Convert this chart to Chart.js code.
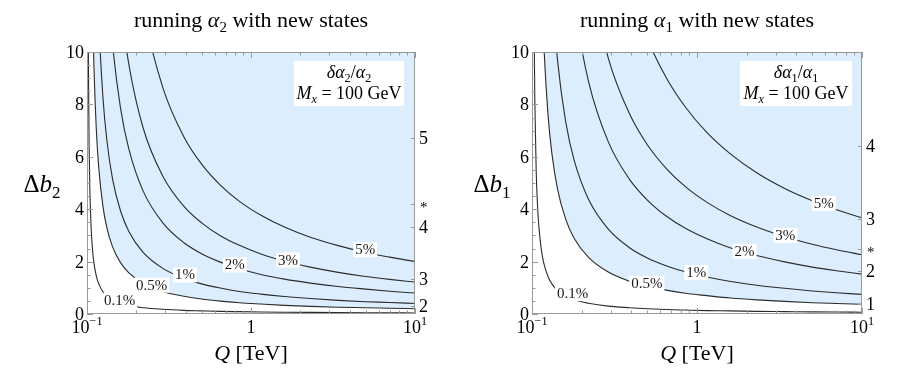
<!DOCTYPE html>
<html>
<head>
<meta charset="utf-8">
<script src="https://cdn.jsdelivr.net/npm/chart.js@4.4.0/dist/chart.umd.min.js"></script>
<style>
  html, body { margin: 0; padding: 0; background: #fff; }
  #wrap { width: 900px; height: 368px; display: flex; }
  #wrap canvas { display: block; }
</style>
</head>
<body>
<div id="wrap">
  <canvas id="chart-a2" width="450" height="368"></canvas>
  <canvas id="chart-a1" width="450" height="368"></canvas>
</div>
<script>
// Q [TeV] sample points shared by all contours
const qValues = [0.101, 0.1015, 0.102, 0.103, 0.104, 0.106, 0.108, 0.11, 0.114, 0.118,
  0.125, 0.132, 0.143, 0.16, 0.18, 0.22, 0.29, 0.39, 0.5, 0.65,
  0.85, 1.15, 1.6, 2.3, 3.4, 5, 7, 10];

const levels = ['0.1%', '0.5%', '1%', '2%', '3%', '5%'];

// Δb2 along each contour of δα2/α2 (left panel)
const b2_01 = [19.1, 12.76, 9.60, 6.43, 4.84, 3.26, 2.47, 1.99, 1.45, 1.15, 0.85, 0.68, 0.53, 0.40,
  0.32, 0.24, 0.18, 0.14, 0.12, 0.10, 0.089, 0.078, 0.069, 0.061, 0.054, 0.049, 0.045, 0.041];
const b2_05 = [null, null, null, null, null, 15.79, 11.95, 9.65, 7.02, 5.56, 4.12, 3.31, 2.57, 1.96,
  1.57, 1.17, 0.86, 0.68, 0.57, 0.49, 0.43, 0.38, 0.33, 0.29, 0.26, 0.24, 0.22, 0.20];
const b2_1 = [null, null, null, null, null, null, null, null, 14.12, 11.18, 8.29, 6.66, 5.17, 3.94,
  3.15, 2.35, 1.74, 1.36, 1.15, 0.99, 0.86, 0.76, 0.67, 0.59, 0.52, 0.47, 0.44, 0.40];
const b2_2 = [null, null, null, null, null, null, null, null, null, null, 16.58, 13.33, 10.34, 7.87,
  6.29, 4.69, 3.48, 2.72, 2.30, 1.98, 1.73, 1.51, 1.33, 1.18, 1.05, 0.95, 0.87, 0.80];
const b2_3 = [null, null, null, null, null, null, null, null, null, null, null, null, 15.66, 11.91,
  9.53, 7.10, 5.26, 4.11, 3.48, 2.99, 2.62, 2.29, 2.02, 1.79, 1.59, 1.43, 1.32, 1.22];
const b2_5 = [null, null, null, null, null, null, null, null, null, null, null, null, null, null,
  15.65, 11.67, 8.64, 6.76, 5.72, 4.92, 4.30, 3.77, 3.32, 2.93, 2.61, 2.35, 2.17, 2.00];

// Δb1 along each contour of δα1/α1 (right panel)
const b1_01 = [null, 21.49, 16.16, 10.83, 8.16, 5.49, 4.16, 3.36, 2.44, 1.93, 1.43, 1.15, 0.89, 0.68,
  0.54, 0.41, 0.30, 0.24, 0.20, 0.17, 0.15, 0.13, 0.12, 0.10, 0.091, 0.082, 0.075, 0.069];
const b1_05 = [null, null, null, null, null, null, null, 17.84, 12.97, 10.27, 7.62, 6.12, 4.75, 3.62,
  2.89, 2.16, 1.60, 1.25, 1.06, 0.91, 0.79, 0.70, 0.61, 0.54, 0.48, 0.43, 0.40, 0.37];
const b1_1 = [null, null, null, null, null, null, null, null, null, null, 15.46, 12.43, 9.65, 7.34,
  5.87, 4.38, 3.24, 2.53, 2.14, 1.84, 1.61, 1.41, 1.24, 1.10, 0.98, 0.88, 0.81, 0.75];
const b1_2 = [null, null, null, null, null, null, null, null, null, null, null, null, 19.57, 14.89,
  11.91, 8.88, 6.57, 5.14, 4.35, 3.74, 3.27, 2.87, 2.52, 2.23, 1.99, 1.79, 1.65, 1.52];
const b1_3 = [null, null, null, null, null, null, null, null, null, null, null, null, null, null,
  17.69, 13.19, 9.77, 7.64, 6.46, 5.56, 4.86, 4.26, 3.75, 3.32, 2.95, 2.66, 2.45, 2.26];
const b1_5 = [null, null, null, null, null, null, null, null, null, null, null, null, null, null,
  null, null, 15.87, 12.42, 10.50, 9.03, 7.90, 6.92, 6.10, 5.39, 4.79, 4.32, 3.98, 3.67];

// where the contour labels sit (Q, Δb)
const labelQ2 = [0.158, 0.248, 0.396, 0.797, 1.68, 4.97];
const labelB2 = [0.54, 1.12, 1.51, 1.89, 2.08, 2.47];
const labelQ1 = [0.176, 0.496, 0.989, 1.94, 3.43, 5.86];
const labelB1 = [0.80, 1.19, 1.60, 2.41, 3.02, 4.24];

// axis ticks
const yTicks = [0, 2, 4, 6, 8, 10];
const yMinor = [0.5, 1, 1.5, 2.5, 3, 3.5, 4.5, 5, 5.5, 6.5, 7, 7.5, 8.5, 9, 9.5];
const xTicks = [0.1, 1, 10];
const xMinor = [0.2, 0.3, 0.4, 0.5, 0.6, 0.7, 0.8, 0.9, 2, 3, 4, 5, 6, 7, 8, 9];

// right-hand frame ticks
const sideVals2 = [6.71, 4.2, 3.33, 1.32, 0.31];
const sideText2 = ['5', '*', '4', '3', '2'];
const sideVals1 = [6.42, 3.63, 2.50, 1.63, 0.37];
const sideText1 = ['4', '3', '*', '2', '1'];

const SERIF = '"Liberation Serif", "Times New Roman", serif';
const FRAME = '#9a9a9a';

// texte avec italique / indice / exposant
function drawRich(ctx, parts, x, y, size, align) {
  const fontOf = p => (p.i ? 'italic ' : '') + (p.s ? size * 0.68 : size).toFixed(1) + 'px ' + SERIF;
  let w = 0;
  parts.forEach(p => { ctx.font = fontOf(p); w += ctx.measureText(p.t).width; });
  let cx = align === 'center' ? x - w / 2 : align === 'right' ? x - w : x;
  ctx.textAlign = 'left';
  ctx.textBaseline = 'alphabetic';
  parts.forEach(p => {
    ctx.font = fontOf(p);
    const dy = p.s === 'sub' ? size * 0.24 : p.s === 'sup' ? -size * 0.42 : 0;
    ctx.fillText(p.t, cx, y + dy);
    cx += ctx.measureText(p.t).width;
  });
  return w;
}

function decorPlugin(o) {
  return {
    id: 'decor',
    afterDraw(chart) {
      const { ctx, chartArea: a, scales: { x, y } } = chart;
      const mid = (a.left + a.right) / 2;
      ctx.save();

      // contour labels
      ctx.font = '15px ' + SERIF;
      o.labelQ.forEach((q, k) => {
        const px = x.getPixelForValue(q), py = y.getPixelForValue(o.labelB[k]);
        const w = ctx.measureText(levels[k]).width;
        ctx.fillStyle = '#fff';
        ctx.fillRect(px - w / 2 - 2, py - 7, w + 4, 15);
        ctx.fillStyle = '#1a1a1a';
        ctx.textAlign = 'center';
        ctx.textBaseline = 'alphabetic';
        ctx.fillText(levels[k], px, py + 5);
      });

      // legend box
      ctx.fillStyle = '#fff';
      ctx.fillRect(o.box[0], o.box[1], o.box[2], o.box[3]);
      ctx.fillStyle = '#000';
      const bx = o.box[0] + o.box[2] / 2;
      drawRich(ctx, o.legend1, bx, 78, 18, 'center');
      drawRich(ctx, o.legend2, bx, 99, 18, 'center');

      // frame
      ctx.strokeStyle = FRAME;
      ctx.lineWidth = 1;
      ctx.strokeRect(a.left + 0.5, a.top + 0.5, a.right - a.left - 1, a.bottom - a.top - 1);

      // ticks, pointing inward
      ctx.beginPath();
      const hx = (v, len) => {
        const px = Math.round(x.getPixelForValue(v)) + 0.5;
        ctx.moveTo(px, a.bottom); ctx.lineTo(px, a.bottom - len);
        ctx.moveTo(px, a.top); ctx.lineTo(px, a.top + len);
      };
      xTicks.forEach(v => hx(v, 6));
      xMinor.forEach(v => hx(v, 3.5));
      const vy = (v, len) => {
        const py = Math.round(y.getPixelForValue(v)) + 0.5;
        ctx.moveTo(a.left, py); ctx.lineTo(a.left + len, py);
      };
      yTicks.forEach(v => vy(v, 6));
      yMinor.forEach(v => vy(v, 3.5));
      o.sideVals.forEach(v => {
        const py = Math.round(y.getPixelForValue(v)) + 0.5;
        ctx.moveTo(a.right, py); ctx.lineTo(a.right - 4, py);
      });
      ctx.stroke();

      // tick labels
      ctx.fillStyle = '#000';
      ctx.font = '18px ' + SERIF;
      ctx.textAlign = 'right';
      ctx.textBaseline = 'alphabetic';
      yTicks.forEach(v => ctx.fillText(String(v), a.left - 3, y.getPixelForValue(v) + 6));
      drawRich(ctx, [{ t: '10' }, { t: '\u22121', s: 'sup' }], x.getPixelForValue(0.1), a.bottom + 19, 18, 'center');
      drawRich(ctx, [{ t: '1' }], x.getPixelForValue(1), a.bottom + 19, 18, 'center');
      drawRich(ctx, [{ t: '10' }, { t: '1', s: 'sup' }], x.getPixelForValue(10), a.bottom + 19, 18, 'center');
      ctx.textAlign = 'left';
      o.sideVals.forEach((v, k) => {
        const py = y.getPixelForValue(v);
        if (o.sideText[k] === '*') {
          ctx.font = '15px ' + SERIF;
          ctx.fillText('*', a.right + 5, py + 8);
        } else {
          ctx.font = '18px ' + SERIF;
          ctx.fillText(o.sideText[k], a.right + 4, py + 6);
        }
      });

      // titles
      drawRich(ctx, o.title, mid, 27, 22, 'center');
      drawRich(ctx, [{ t: 'Q', i: 1 }, { t: ' [TeV]' }], mid, 360, 22, 'center');
      drawRich(ctx, o.yLabel, 42, 192, 25, 'center');

      ctx.restore();
    }
  };
}

function makeChart(id, o) {
  return new Chart(document.getElementById(id), {
    type: 'line',
    data: {
      datasets: o.curves.map((arr, k) => ({
        label: levels[k],
        data: qValues.map((q, i) => ({ x: q, y: arr[i] })).filter(p => p.y !== null),
        borderColor: '#2b2b2b',
        borderWidth: 1.1,
        pointRadius: 0,
        cubicInterpolationMode: 'monotone',
        fill: k === 1 ? 'end' : false,
        backgroundColor: '#dcedfd'
      }))
    },
    options: {
      responsive: false,
      animation: false,
      layout: { padding: o.pad },
      scales: {
        x: { type: 'logarithmic', min: 0.1, max: 10, display: false },
        y: { min: 0, max: 10, display: false }
      },
      plugins: {
        legend: { display: false },
        tooltip: { enabled: false },
        filler: { drawTime: 'beforeDatasetsDraw' }
      }
    },
    plugins: [decorPlugin(o)]
  });
}

makeChart('chart-a2', {
  curves: [b2_01, b2_05, b2_1, b2_2, b2_3, b2_5],
  pad: { left: 87, right: 35, top: 52, bottom: 54 },
  labelQ: labelQ2, labelB: labelB2,
  sideVals: sideVals2, sideText: sideText2,
  box: [294, 61, 110, 45],
  title: [{ t: 'running ' }, { t: '\u03b1', i: 1 }, { t: '2', s: 'sub' }, { t: ' with new states' }],
  yLabel: [{ t: '\u0394' }, { t: 'b', i: 1 }, { t: '2', s: 'sub' }],
  legend1: [{ t: '\u03b4\u03b1', i: 1 }, { t: '2', s: 'sub' }, { t: '/' }, { t: '\u03b1', i: 1 }, { t: '2', s: 'sub' }],
  legend2: [{ t: 'M', i: 1 }, { t: 'x', i: 1, s: 'sub' }, { t: ' = 100 GeV' }]
});

makeChart('chart-a1', {
  curves: [b1_01, b1_05, b1_1, b1_2, b1_3, b1_5],
  pad: { left: 82, right: 38, top: 52, bottom: 54 },
  labelQ: labelQ1, labelB: labelB1,
  sideVals: sideVals1, sideText: sideText1,
  box: [290, 61, 112, 45],
  title: [{ t: 'running ' }, { t: '\u03b1', i: 1 }, { t: '1', s: 'sub' }, { t: ' with new states' }],
  yLabel: [{ t: '\u0394' }, { t: 'b', i: 1 }, { t: '1', s: 'sub' }],
  legend1: [{ t: '\u03b4\u03b1', i: 1 }, { t: '1', s: 'sub' }, { t: '/' }, { t: '\u03b1', i: 1 }, { t: '1', s: 'sub' }],
  legend2: [{ t: 'M', i: 1 }, { t: 'x', i: 1, s: 'sub' }, { t: ' = 100 GeV' }]
});
</script>
</body>
</html>
